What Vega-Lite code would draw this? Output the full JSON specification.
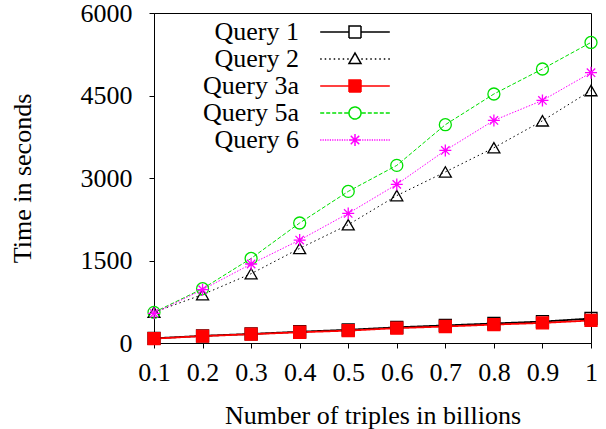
{
  "$schema": "https://vega.github.io/schema/vega-lite/v6.json",
  "width": 437,
  "height": 330,
  "autosize": {"type": "none"},
  "padding": {"left": 154, "top": 13, "right": 15, "bottom": 86},
  "background": "white",
  "config": {
    "view": {"stroke": "black", "strokeWidth": 1},
    "axis": {
      "labelFont": "Liberation Serif", "titleFont": "Liberation Serif",
      "labelFontSize": 26, "titleFontSize": 26, "titleFontWeight": "normal",
      "labelColor": "black", "titleColor": "black", "domainColor": "black",
      "tickColor": "black", "grid": false, "tickSize": 5
    }
  },
  "data": {"values": [
    {"query": "Query 1", "x": 0.1, "y": 85}, {"query": "Query 1", "x": 0.2, "y": 130}, {"query": "Query 1", "x": 0.3, "y": 165}, {"query": "Query 1", "x": 0.4, "y": 205}, {"query": "Query 1", "x": 0.5, "y": 240}, {"query": "Query 1", "x": 0.6, "y": 285}, {"query": "Query 1", "x": 0.7, "y": 320}, {"query": "Query 1", "x": 0.8, "y": 355}, {"query": "Query 1", "x": 0.9, "y": 390}, {"query": "Query 1", "x": 1.0, "y": 445},
    {"query": "Query 2", "x": 0.1, "y": 560}, {"query": "Query 2", "x": 0.2, "y": 880}, {"query": "Query 2", "x": 0.3, "y": 1260}, {"query": "Query 2", "x": 0.4, "y": 1720}, {"query": "Query 2", "x": 0.5, "y": 2150}, {"query": "Query 2", "x": 0.6, "y": 2680}, {"query": "Query 2", "x": 0.7, "y": 3110}, {"query": "Query 2", "x": 0.8, "y": 3550}, {"query": "Query 2", "x": 0.9, "y": 4040}, {"query": "Query 2", "x": 1.0, "y": 4590},
    {"query": "Query 3a", "x": 0.1, "y": 80}, {"query": "Query 3a", "x": 0.2, "y": 125}, {"query": "Query 3a", "x": 0.3, "y": 160}, {"query": "Query 3a", "x": 0.4, "y": 195}, {"query": "Query 3a", "x": 0.5, "y": 225}, {"query": "Query 3a", "x": 0.6, "y": 270}, {"query": "Query 3a", "x": 0.7, "y": 300}, {"query": "Query 3a", "x": 0.8, "y": 335}, {"query": "Query 3a", "x": 0.9, "y": 365}, {"query": "Query 3a", "x": 1.0, "y": 410},
    {"query": "Query 5a", "x": 0.1, "y": 557}, {"query": "Query 5a", "x": 0.2, "y": 987}, {"query": "Query 5a", "x": 0.3, "y": 1538}, {"query": "Query 5a", "x": 0.4, "y": 2182}, {"query": "Query 5a", "x": 0.5, "y": 2756}, {"query": "Query 5a", "x": 0.6, "y": 3229}, {"query": "Query 5a", "x": 0.7, "y": 3969}, {"query": "Query 5a", "x": 0.8, "y": 4527}, {"query": "Query 5a", "x": 0.9, "y": 4982}, {"query": "Query 5a", "x": 1.0, "y": 5465},
    {"query": "Query 6", "x": 0.1, "y": 540}, {"query": "Query 6", "x": 0.2, "y": 970}, {"query": "Query 6", "x": 0.3, "y": 1436}, {"query": "Query 6", "x": 0.4, "y": 1872}, {"query": "Query 6", "x": 0.5, "y": 2356}, {"query": "Query 6", "x": 0.6, "y": 2884}, {"query": "Query 6", "x": 0.7, "y": 3502}, {"query": "Query 6", "x": 0.8, "y": 4047}, {"query": "Query 6", "x": 0.9, "y": 4411}, {"query": "Query 6", "x": 1.0, "y": 4915}
  ]},
  "encoding": {
    "x": {"field": "x", "type": "quantitative",
      "scale": {"domain": [0.1, 1], "nice": false, "zero": false},
      "axis": {"values": [0.1, 0.2, 0.3, 0.4, 0.5, 0.6, 0.7, 0.8, 0.9, 1.0], "format": "~g", "labelPadding": 11.5, "titlePadding": 17, "title": "Number of triples in billions", "labelFlush": false, "labelOverlap": false}},
    "y": {"field": "y", "type": "quantitative",
      "scale": {"domain": [0, 6000], "nice": false},
      "axis": {"values": [0, 1500, 3000, 4500, 6000], "format": "d", "labelPadding": 17, "titlePadding": 45, "title": "Time in seconds", "labelFlush": false, "labelOverlap": false}}
  },
  "layer": [
    {
      "mark": {"type": "line", "clip": false},
      "encoding": {
        "color": {"field": "query", "type": "nominal",
          "scale": {"domain": ["Query 1", "Query 2", "Query 3a", "Query 5a", "Query 6"], "range": ["black", "black", "red", "#00e000", "#ff00ff"]},
          "legend": {
            "orient": "none", "legendX": 188, "legendY": 6, "title": null,
            "labelAlign": "right", "labelOffset": -69, "labelFont": "Liberation Serif", "labelFontSize": 26,
            "labelColor": "black", "labelLimit": 0, "symbolSize": 144, "rowPadding": 1, "padding": 0,
            "symbolStrokeWidth": 1.5,
            "encode": {"symbols": {"update": {
              "shape": {"signal": "(datum.value === 'Query 1' || datum.value === 'Query 3a') ? 'M-5.8,0L-1,0M1,0L5.8,0M-1,-1L1,-1L1,1L-1,1Z' : datum.value === 'Query 2' ? 'M-5.8,0l0.25,0m0.5,0l0.25,0m0.5,0l0.25,0m0.5,0l0.25,0m0.5,0l0.25,0m0.5,0l0.25,0m0.5,0l0.25,0M1.05,0l0.25,0m0.5,0l0.25,0m0.5,0l0.25,0m0.5,0l0.25,0m0.5,0l0.25,0m0.5,0l0.25,0m0.5,0l0.25,0M0,-1L1,0.75L-1,0.75Z' : datum.value === 'Query 5a' ? 'M-5.8,0l0.67,0m0.33,0l0.67,0m0.33,0l0.67,0m0.33,0l0.67,0m0.33,0l0.67,0M1.13,0l0.67,0m0.33,0l0.67,0m0.33,0l0.67,0m0.33,0l0.67,0m0.33,0l0.67,0M-1,0A1,1,0,1,1,1,0A1,1,0,1,1,-1,0Z' : 'M-5.8,0l0.2,0m0.2,0l0.2,0m0.2,0l0.2,0m0.2,0l0.2,0m0.2,0l0.2,0m0.2,0l0.2,0m0.2,0l0.2,0m0.2,0l0.2,0m0.2,0l0.2,0m0.2,0l0.2,0m0.2,0l0.2,0m0.2,0l0.2,0M1.2,0l0.2,0m0.2,0l0.2,0m0.2,0l0.2,0m0.2,0l0.2,0m0.2,0l0.2,0m0.2,0l0.2,0m0.2,0l0.2,0m0.2,0l0.2,0m0.2,0l0.2,0m0.2,0l0.2,0m0.2,0l0.2,0m0.2,0l0.2,0M-1,0L1,0M0,-1L0,1M-0.7,-0.7L0.7,0.7M-0.7,0.7L0.7,-0.7'"},
              "fill": {"signal": "datum.value === 'Query 3a' ? 'red' : 'transparent'"},
              "strokeDash": {"value": [1, 0]},
              "strokeWidth": {"value": 1.5},
              "opacity": {"value": 1}
            }}}
          }},
        "strokeDash": {
          "condition": [
            {"test": "datum.query === 'Query 2'", "value": [1.5, 3]},
            {"test": "datum.query === 'Query 5a'", "value": [4, 2]},
            {"test": "datum.query === 'Query 6'", "value": [1.5, 1.5]}
          ],
          "value": [1, 0]},
        "strokeWidth": {
          "condition": [
            {"test": "datum.query === 'Query 1' || datum.query === 'Query 3a'", "value": 1.8}
          ],
          "value": 1}
      }
    },
    {
      "mark": {"type": "point", "clip": false, "strokeWidth": 1.3, "size": 144, "opacity": 1},
      "encoding": {
        "shape": {
          "condition": [
            {"test": "datum.query === 'Query 2'", "value": "triangle-up"},
            {"test": "datum.query === 'Query 5a'", "value": "circle"},
            {"test": "datum.query === 'Query 6'", "value": "M-1,0H1M0,-1V1M-0.7,-0.7L0.7,0.7M-0.7,0.7L0.7,-0.7"}
          ],
          "value": "square"},
        "stroke": {
          "condition": [
            {"test": "datum.query === 'Query 3a'", "value": "red"},
            {"test": "datum.query === 'Query 5a'", "value": "#00e000"},
            {"test": "datum.query === 'Query 6'", "value": "#ff00ff"}
          ],
          "value": "black"},
        "fill": {
          "condition": {"test": "datum.query === 'Query 3a'", "value": "red"},
          "value": "transparent"}
      }
    }
  ]
}
